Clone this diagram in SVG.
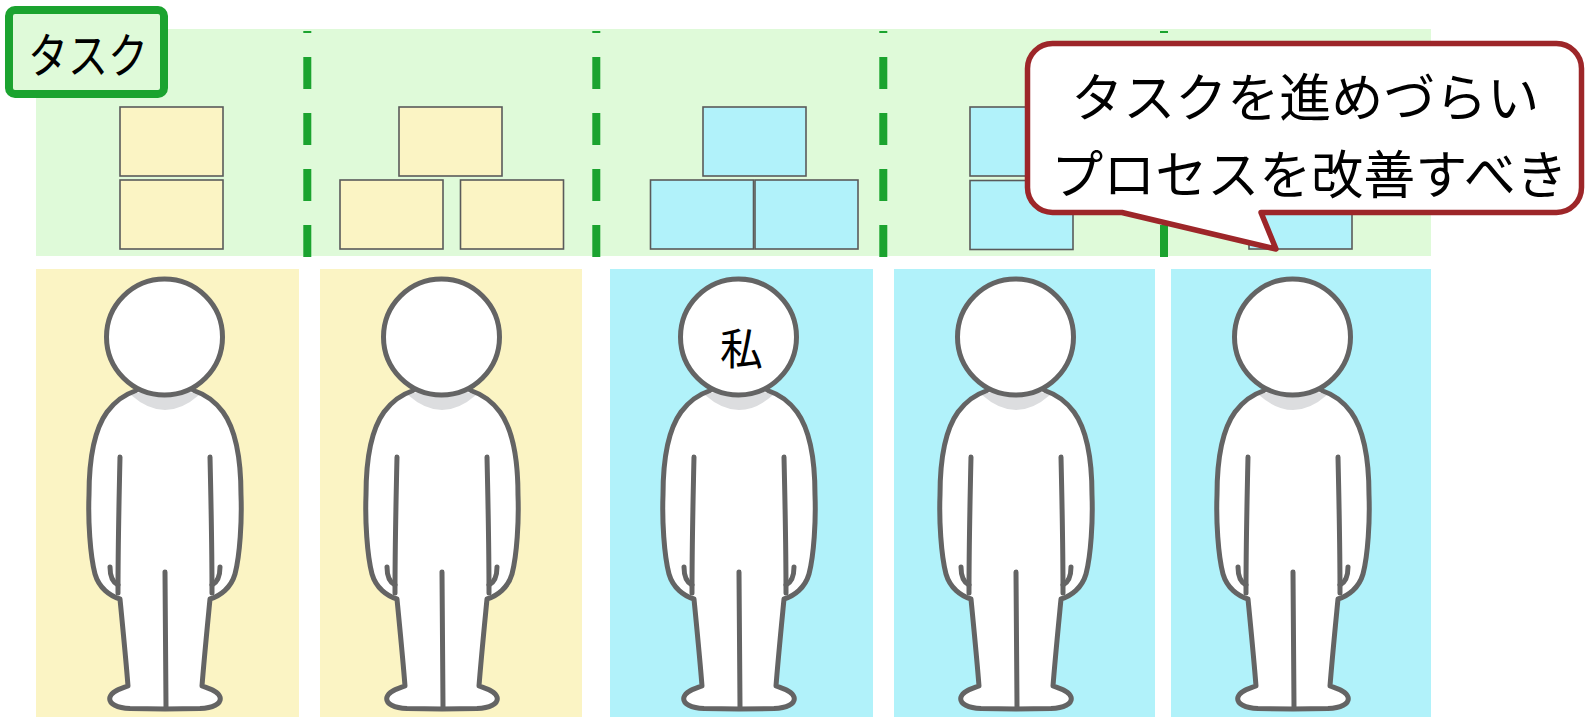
<svg xmlns="http://www.w3.org/2000/svg" xmlns:xlink="http://www.w3.org/1999/xlink" width="1585" height="717" viewBox="0 0 1585 717">
  <style>
    .band { fill: #dffad9; }
    .divider { stroke: #1ba32f; stroke-width: 8; stroke-dasharray: 32 24; stroke-dashoffset: 30; fill: none; }
    .task-y { fill: #fbf4c4; stroke: #5a5a5a; stroke-width: 1.6; }
    .task-c { fill: #b1f2fa; stroke: #5a5a5a; stroke-width: 1.6; }
    .panel-y { fill: #fbf4c4; }
    .panel-c { fill: #b1f2fa; }
    .jp { font-family: "Noto Sans CJK JP", "Noto Sans", sans-serif; fill: #000; }
    .ink { stroke: #646464; stroke-width: 5; stroke-linecap: round; stroke-linejoin: round; }
  </style>
  <defs>
    <!-- standing figure, drawn once around x=165 -->
    <path id="body-shape" d="M 165,709 L 130,708.5 C 118,708 108,704 110,697 C 112,691 120,689 128,686 C 126,660 123,630 120,599 C 110,596 99,588 95,574 C 90,555 88,520 89,495 C 89,460 94,430 107,412 C 116,400 126,394 135,391 Q 165,370 195,391 C 204,394 214,400 223,412 C 236,430 241,460 241,495 C 242,520 240,555 235,574 C 231,588 220,596 210,599 C 207,630 204,660 202,686 C 210,689 218,691 220,697 C 222,704 212,708 200,708.5 Z"/>
    <g id="person">
      <use xlink:href="#body-shape" fill="#ffffff"/>
      <path d="M 131,395 Q 165,425 199,395 Q 165,382 131,395 Z" fill="#dcdddf"/>
      <use xlink:href="#body-shape" fill="none" class="ink"/>
      <path class="ink" fill="none" d="M 120,457 C 119,500 118,550 118,593"/>
      <path class="ink" fill="none" d="M 110,567 C 110,575 112,582 118,585"/>
      <path class="ink" fill="none" d="M 210,457 C 211,500 212,550 212,593"/>
      <path class="ink" fill="none" d="M 220,567 C 220,575 218,582 212,585"/>
      <path class="ink" fill="none" d="M 165,572 L 166,707"/>
      <circle class="ink" cx="164.5" cy="337" r="58" fill="#ffffff"/>
    </g>
  </defs>

  <!-- task band -->
  <g id="task-band">
    <rect class="band" x="36" y="29" width="1395" height="227"/>
  </g>

  <!-- task stacks, one per member -->
  <g id="tasks-1">
    <rect class="task-y" x="120" y="107" width="103" height="69"/>
    <rect class="task-y" x="120" y="180" width="103" height="69"/>
  </g>
  <g id="tasks-2">
    <rect class="task-y" x="399" y="107" width="103" height="69"/>
    <rect class="task-y" x="340" y="180" width="103" height="69"/>
    <rect class="task-y" x="460.5" y="180" width="103" height="69"/>
  </g>
  <g id="tasks-3">
    <rect class="task-c" x="703" y="107" width="103" height="69"/>
    <rect class="task-c" x="650.5" y="180" width="103" height="69"/>
    <rect class="task-c" x="755" y="180" width="103" height="69"/>
  </g>
  <g id="tasks-4">
    <rect class="task-c" x="970" y="107" width="103" height="69"/>
    <rect class="task-c" x="970" y="180.5" width="103" height="69"/>
  </g>
  <g id="tasks-5">
    <rect class="task-c" x="1249" y="180" width="103" height="69"/>
  </g>

  <!-- dashed separators between members -->
  <g id="dividers">
    <line class="divider" x1="307.3" y1="31" x2="307.3" y2="257"/>
    <line class="divider" x1="596.3" y1="31" x2="596.3" y2="257"/>
    <line class="divider" x1="883.3" y1="31" x2="883.3" y2="257"/>
    <line class="divider" x1="1164" y1="31" x2="1164" y2="257"/>
  </g>

  <!-- band label -->
  <g id="label-task">
    <rect x="9" y="10" width="155" height="84" rx="6" fill="#dffad9" stroke="#1ba32f" stroke-width="8"/>
    <text class="jp" font-size="40" text-anchor="middle" transform="translate(88,72.8) scale(1,1.2)">タスク</text>
  </g>

  <!-- members -->
  <g id="member-1">
    <rect class="panel-y" x="36" y="269" width="263" height="448"/>
    <use xlink:href="#person"/>
  </g>
  <g id="member-2">
    <rect class="panel-y" x="320" y="269" width="262" height="448"/>
    <use xlink:href="#person" transform="translate(277,0)"/>
  </g>
  <g id="member-3">
    <rect class="panel-c" x="610" y="269" width="263" height="448"/>
    <use xlink:href="#person" transform="translate(574,0)"/>
    <text class="jp" x="741.5" y="365" font-size="43" text-anchor="middle">私</text>
  </g>
  <g id="member-4">
    <rect class="panel-c" x="894" y="269" width="261" height="448"/>
    <use xlink:href="#person" transform="translate(851,0)"/>
  </g>
  <g id="member-5">
    <rect class="panel-c" x="1171" y="269" width="260" height="448"/>
    <use xlink:href="#person" transform="translate(1128,0)"/>
  </g>

  <!-- speech bubble -->
  <g id="callout">
    <path d="M 1052.5,43.5 H 1556.5 A 25 25 0 0 1 1581.5,68.5 V 187.5 A 25 25 0 0 1 1556.5,212.5 H 1261 L 1276,249 L 1122,212.5 H 1052.5 A 25 25 0 0 1 1027.5,187.5 V 68.5 A 25 25 0 0 1 1052.5,43.5 Z" fill="#ffffff" stroke="#9d2629" stroke-width="5.5" stroke-linejoin="round"/>
    <text class="jp" font-size="52" text-anchor="middle">
      <tspan x="1311" y="117">タスクを進めづらい</tspan>
      <tspan x="1309.5" y="194">プロセスを改善すべき</tspan>
    </text>
  </g>
</svg>
